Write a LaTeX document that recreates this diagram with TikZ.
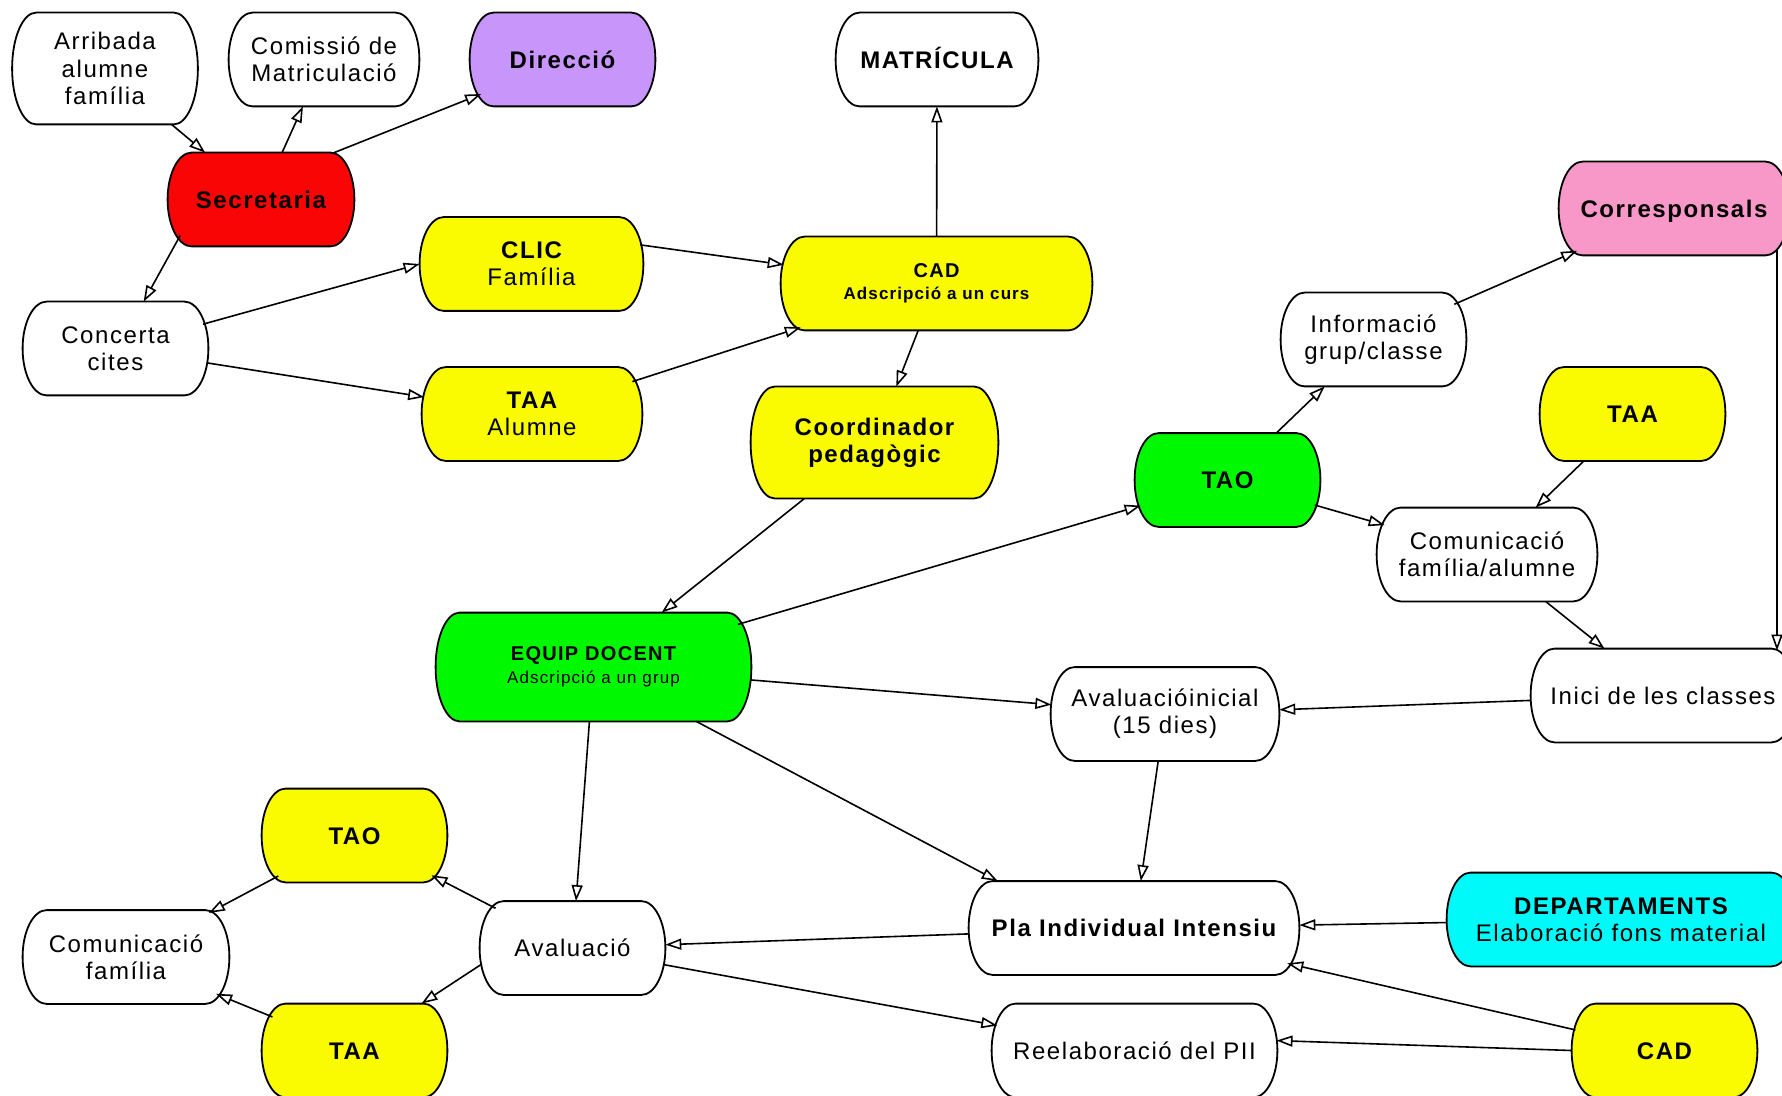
\documentclass[tikz,border=0pt]{standalone}
\usepackage{fontspec}
\setmainfont{Liberation Sans}[LetterSpace=6.5]
\usetikzlibrary{shapes.misc,arrows.meta,calc,backgrounds}
\definecolor{cred}{RGB}{250,5,5}
\definecolor{cyel}{RGB}{250,250,0}
\definecolor{cgrn}{RGB}{0,248,0}
\definecolor{ccya}{RGB}{0,250,250}
\definecolor{cpnk}{RGB}{248,152,200}
\definecolor{cpur}{RGB}{200,150,250}
\begin{document}
\begin{tikzpicture}[x=0.5pt,y=-0.5pt,
  box/.style={rounded rectangle, rounded rectangle arc length=109, draw=none, fill=none,
    align=center, inner sep=0pt, minimum height=46.5pt,
    font=\fontsize{12}{13.6}\selectfont},
  tallbox/.style={box, rounded rectangle arc length=95},
  oneline/.style={text height=8.6pt, text depth=0pt},
  arr/.style={draw=black, line width=0.8pt, -{Triangle[open, length=8pt, width=5.5pt, line width=0.8pt]}}]
\useasboundingbox (0,0) rectangle (1782,1096);
% nodes
\node[tallbox, minimum width=92.5pt, minimum height=55.5pt] (arr) at (105,68.5) {Arribada\\alumne\\família};
\node[box, minimum width=95pt] (com) at (324,59.5) {Comissió de\\Matriculació};
\node[box, oneline, minimum width=92.5pt] (dir) at (562.5,59.5) {\bfseries Direcció};
\node[box, oneline, minimum width=101pt] (mat) at (937,59.5) {\bfseries MATRÍCULA};
\node[box, oneline, minimum width=93pt] (sec) at (261,199.5) {\bfseries Secretaria};
\node[box, minimum width=111.5pt] (clic) at (531.5,264) {\bfseries CLIC\\Família};
\node[box, minimum width=155.5pt, font=\fontsize{8.5}{10.8}\selectfont\bfseries] (cad) at (936.5,283.5) {{\fontsize{10}{10.8}\selectfont CAD}\\Adscripció a un curs};
\node[box, minimum width=92.5pt] (con) at (115.5,348.5) {Concerta\\cites};
\node[box, minimum width=110pt] (taa1) at (532,414) {\bfseries TAA\\Alumne};
\node[tallbox, minimum width=123.5pt, minimum height=55.5pt] (coord) at (874.5,442.5) {\bfseries Coordinador\\\bfseries pedagògic};
\node[box, oneline, minimum width=115pt] (corr) at (1674,208.5) {\bfseries Corresponsals};
\node[box, minimum width=92.5pt] (info) at (1373.5,339.5) {Informació\\grup/classe};
\node[box, oneline, minimum width=92.5pt] (taa2) at (1632.5,414) {\bfseries TAA};
\node[box, oneline, minimum width=92.5pt] (tao1) at (1227.5,480) {\bfseries TAO};
\node[box, minimum width=110pt] (comfa) at (1487,554.5) {Comunicació\\família/alumne};
\node[tallbox, minimum width=157.5pt, minimum height=54pt, font=\fontsize{8.5}{11.4}\selectfont] (equip) at (593.5,667) {{\fontsize{10}{11.4}\selectfont\bfseries EQUIP DOCENT}\\Adscripció a un grup};
\node[box, minimum width=114pt] (avi) at (1165,714) {Avaluacióinicial\\(15 dies)};
\node[box, oneline, minimum width=132pt] (inici) at (1663,695.5) {Inici de les classes};
\node[box, oneline, minimum width=92.5pt] (tao2) at (354.5,835.5) {\bfseries TAO};
\node[box, minimum width=103pt] (comf) at (126,957) {Comunicació\\família};
\node[box, oneline, minimum width=92.5pt] (aval) at (572.5,948) {Avaluació};
\node[box, oneline, minimum width=165pt] (pla) at (1134,928) {\bfseries Pla Individual Intensiu};
\node[box, minimum width=174pt] (dep) at (1621,919.5) {\bfseries DEPARTAMENTS\\Elaboració fons material};
\node[box, oneline, minimum width=92.5pt] (taa3) at (354.5,1050.5) {\bfseries TAA};
\node[box, oneline, minimum width=142.5pt] (reel) at (1134.5,1050.5) {Reelaboració del PII};
\node[box, oneline, minimum width=92.5pt] (cad2) at (1664.5,1050.5) {\bfseries CAD};
\coordinate (vx) at (1777,0);
% visible shapes (elliptic ends) behind the texts
\begin{pgfonlayer}{background}
\fill[white] (0,0) rectangle (1782,1096);
\foreach \nm/\fc in {arr/white,com/white,dir/cpur,mat/white,sec/cred,clic/cyel,cad/cyel,con/white,
  taa1/cyel,coord/cyel,corr/cpnk,info/white,taa2/cyel,tao1/cgrn,comfa/white,equip/cgrn,avi/white,
  inici/white,tao2/cyel,comf/white,aval/white,pla/white,dep/ccya,taa3/cyel,reel/white,cad2/cyel}{
  \path let \p1=(\nm.north), \p2=(\nm.south), \p3=(\nm.west), \p4=(\nm.east) in
    [fill=\fc, draw=black, line width=0.9pt]
    (\x3+12pt,\y1) -- (\x4-12pt,\y1)
    arc[start angle=90, end angle=-90, x radius=12pt, y radius={(\y1-\y2)/2}]
    -- (\x3+12pt,\y2)
    arc[start angle=270, end angle=90, x radius=12pt, y radius={(\y1-\y2)/2}]
    -- cycle;
}
\end{pgfonlayer}
% connectors
\draw[arr] (arr) -- (sec);
\draw[arr] (sec) -- (com);
\draw[arr] (sec.33) -- (dir.203);
\draw[arr] (sec.204) -- (con.59);
\draw[arr] (con) -- (clic.west);
\draw[arr] (con) -- (taa1);
\draw[arr] (clic.10) -- (cad.173);
\draw[arr] (taa1) -- (cad);
\draw[arr] (cad) -- (mat);
\draw[arr] (cad) -- (coord);
\draw[arr] (coord) -- (equip);
\draw[arr] (equip) -- (tao1);
\draw[arr] (tao1) -- (info);
\draw[arr] (info) -- (corr);
\draw[arr] (tao1) -- (comfa);
\draw[arr] (taa2) -- (comfa);
\draw[arr] (comfa) -- (inici);
\draw[arr] ($(corr.south -| vx)+(0,-6)$) -- ($(inici.north -| vx)+(0,2)$);
\draw[arr] (inici) -- (avi);
\draw[arr] (equip) -- (avi);
\draw[arr] (avi) -- (pla);
\draw[arr] (equip) -- (pla.161);
\draw[arr] (equip) -- (aval);
\draw[arr] (pla) -- (aval);
\draw[arr] (dep) -- (pla);
\draw[arr] (cad2) -- (pla);
\draw[arr] (cad2.west) -- (reel.4);
\draw[arr] (aval) -- (reel);
\draw[arr] (aval) -- (tao2);
\draw[arr] (aval.190) -- (taa3.35);
\draw[arr] (tao2) -- (comf);
\draw[arr] (taa3) -- (comf);
\end{tikzpicture}
\end{document}
